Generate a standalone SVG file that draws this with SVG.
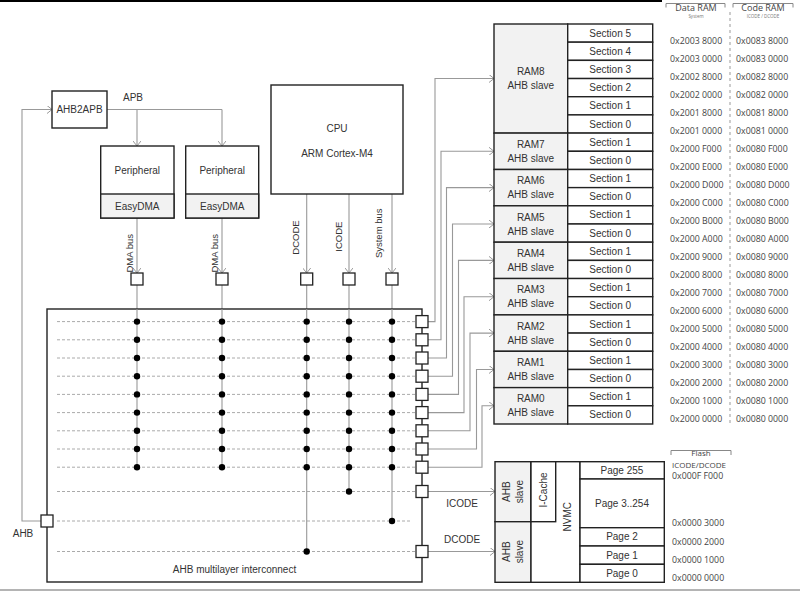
<svg xmlns="http://www.w3.org/2000/svg" width="800" height="592" viewBox="0 0 800 592">
<style>
.box{fill:#fff;stroke:#222;stroke-width:1.4}
.gbox{fill:#f2f2f2;stroke:#222;stroke-width:1.4}
.sq{fill:#fff;stroke:#222;stroke-width:1.3}
.t{font-family:"Liberation Sans",Arial,sans-serif;font-size:10px;fill:#333;text-anchor:middle}
.tr{font-family:"Liberation Sans",Arial,sans-serif;font-size:9.5px;fill:#333;text-anchor:middle}
.a{font-family:"Open Sans","Noto Sans",sans-serif;font-size:8.8px;fill:#444}
.h{font-family:"Open Sans","Noto Sans",sans-serif;font-size:9px;fill:#444;text-anchor:middle}
.hs{font-family:"Open Sans","Noto Sans",sans-serif;font-size:4.5px;fill:#777;text-anchor:middle}
.c{fill:none;stroke:#999;stroke-width:1.1}
.cm{fill:none;stroke:#999;stroke-width:1.1;marker-end:url(#ar)}
.d{fill:none;stroke:#aaa;stroke-width:1;stroke-dasharray:3,2}
.dot{fill:#000}
.br{fill:none;stroke:#888;stroke-width:1}
</style>
<defs>
<marker id="ar" markerUnits="userSpaceOnUse" viewBox="0 0 5 8" markerWidth="5" markerHeight="8" refX="5" refY="4" orient="auto">
<path d="M0,0 L5,4 L0,8" fill="none" stroke="#999" stroke-width="1"/>
</marker>
</defs>
<line x1="0" y1="1" x2="662" y2="1" stroke="#000" stroke-width="2"/>
<line x1="0" y1="590" x2="800" y2="590" stroke="#b4b4b4" stroke-width="2"/>

<g id="connectors">
<path class="cm" d="M45,521 H22 V109.5 H52"/>
<path class="c" d="M107,109.5 H222"/>
<path class="cm" d="M137,109.5 V146"/>
<path class="cm" d="M222,109.5 V146"/>
<path class="cm" d="M137,218 V273"/>
<path class="cm" d="M222,218 V273"/>
<path class="cm" d="M306.7,194 V273"/>
<path class="cm" d="M349,194 V273"/>
<path class="cm" d="M392,194 V273"/>
<path class="c" d="M137,285 V467.2 M222,285 V467.2 M306.7,285 V551.5 M349,285 V491.5 M392,285 V521"/>
<path class="cm" d="M428,321.6 H435 V78.5 H494"/>
<path class="cm" d="M428,339.8 H441 V151.3 H494"/>
<path class="cm" d="M428,358 H446.5 V187.6 H494"/>
<path class="cm" d="M428,376.2 H452.5 V224 H494"/>
<path class="cm" d="M428,394.4 H458.5 V260.4 H494"/>
<path class="cm" d="M428,412.6 H464 V296.7 H494"/>
<path class="cm" d="M428,430.8 H470 V333.1 H494"/>
<path class="cm" d="M428,449 H476.5 V369.5 H494"/>
<path class="cm" d="M428,467.2 H482 V405.8 H494"/>
<path class="cm" d="M428,491.5 H495"/>
<path class="cm" d="M428,551.5 H495"/>
<text class="t" x="133" y="101">APB</text>
<text class="t" x="23" y="537">AHB</text>
<text class="t" x="462" y="507">ICODE</text>
<text class="t" x="462" y="543">DCODE</text>
<text class="tr" transform="translate(133,253.3) rotate(-90)">DMA bus</text>
<text class="tr" transform="translate(218,253.3) rotate(-90)">DMA bus</text>
<text class="tr" transform="translate(298.5,237.5) rotate(-90)">DCODE</text>
<text class="tr" transform="translate(341.5,236.7) rotate(-90)">ICODE</text>
<text class="tr" transform="translate(382,233.3) rotate(-90)">System bus</text>
</g>

<g id="ahb2apb">
<rect class="box" x="52" y="91" width="55" height="37"/>
<text class="t" x="79.5" y="113">AHB2APB</text>
</g>
<g id="peripheral1">
<rect class="box" x="100.7" y="146" width="73.3" height="72"/>
<rect class="gbox" x="100.7" y="194" width="73.3" height="24"/>
<text class="t" x="137.3" y="173.5">Peripheral</text>
<text class="t" x="137.3" y="210">EasyDMA</text>
</g>
<g id="peripheral2">
<rect class="box" x="185.7" y="146" width="73" height="72"/>
<rect class="gbox" x="185.7" y="194" width="73" height="24"/>
<text class="t" x="222.2" y="173.5">Peripheral</text>
<text class="t" x="222.2" y="210">EasyDMA</text>
</g>
<g id="cpu">
<rect class="box" x="271" y="85" width="132" height="109"/>
<text class="t" x="337" y="131.5">CPU</text>
<text class="t" x="337" y="156.5">ARM Cortex-M4</text>
</g>

<g id="masterports">
<rect class="sq" x="131" y="273" width="12" height="12"/>
<rect class="sq" x="216" y="273" width="12" height="12"/>
<rect class="sq" x="300.7" y="273" width="12" height="12"/>
<rect class="sq" x="343" y="273" width="12" height="12"/>
<rect class="sq" x="386" y="273" width="12" height="12"/>
</g>

<g id="interconnect">
<rect x="47" y="309" width="375" height="273" fill="#fff" stroke="#222" stroke-width="1.4"/>
<path class="d" d="M57,321.6 H416 M57,339.8 H416 M57,358 H416 M57,376.2 H416 M57,394.4 H416 M57,412.6 H416 M57,430.8 H416 M57,449 H416 M57,467.2 H416 M57,491.5 H416 M57,521 H410 M57,551.5 H416"/>
<path class="c" d="M137,309 V467.2 M222,309 V467.2 M306.7,309 V551.5 M349,309 V491.5 M392,309 V521"/>
<g class="dot">
<circle cx="137" cy="321.6" r="3.2"/><circle cx="137" cy="339.8" r="3.2"/><circle cx="137" cy="358" r="3.2"/><circle cx="137" cy="376.2" r="3.2"/><circle cx="137" cy="394.4" r="3.2"/><circle cx="137" cy="412.6" r="3.2"/><circle cx="137" cy="430.8" r="3.2"/><circle cx="137" cy="449" r="3.2"/><circle cx="137" cy="467.2" r="3.2"/>
<circle cx="222" cy="321.6" r="3.2"/><circle cx="222" cy="339.8" r="3.2"/><circle cx="222" cy="358" r="3.2"/><circle cx="222" cy="376.2" r="3.2"/><circle cx="222" cy="394.4" r="3.2"/><circle cx="222" cy="412.6" r="3.2"/><circle cx="222" cy="430.8" r="3.2"/><circle cx="222" cy="449" r="3.2"/><circle cx="222" cy="467.2" r="3.2"/>
<circle cx="306.7" cy="321.6" r="3.2"/><circle cx="306.7" cy="339.8" r="3.2"/><circle cx="306.7" cy="358" r="3.2"/><circle cx="306.7" cy="376.2" r="3.2"/><circle cx="306.7" cy="394.4" r="3.2"/><circle cx="306.7" cy="412.6" r="3.2"/><circle cx="306.7" cy="430.8" r="3.2"/><circle cx="306.7" cy="449" r="3.2"/><circle cx="306.7" cy="467.2" r="3.2"/><circle cx="306.7" cy="551.5" r="3.2"/>
<circle cx="349" cy="321.6" r="3.2"/><circle cx="349" cy="339.8" r="3.2"/><circle cx="349" cy="358" r="3.2"/><circle cx="349" cy="376.2" r="3.2"/><circle cx="349" cy="394.4" r="3.2"/><circle cx="349" cy="412.6" r="3.2"/><circle cx="349" cy="430.8" r="3.2"/><circle cx="349" cy="449" r="3.2"/><circle cx="349" cy="467.2" r="3.2"/><circle cx="349" cy="491.5" r="3.2"/>
<circle cx="392" cy="321.6" r="3.2"/><circle cx="392" cy="339.8" r="3.2"/><circle cx="392" cy="358" r="3.2"/><circle cx="392" cy="376.2" r="3.2"/><circle cx="392" cy="394.4" r="3.2"/><circle cx="392" cy="412.6" r="3.2"/><circle cx="392" cy="430.8" r="3.2"/><circle cx="392" cy="449" r="3.2"/><circle cx="392" cy="467.2" r="3.2"/><circle cx="392" cy="521" r="3.2"/>
</g>
<g>
<rect class="sq" x="416" y="315.6" width="12" height="12"/>
<rect class="sq" x="416" y="333.8" width="12" height="12"/>
<rect class="sq" x="416" y="352" width="12" height="12"/>
<rect class="sq" x="416" y="370.2" width="12" height="12"/>
<rect class="sq" x="416" y="388.4" width="12" height="12"/>
<rect class="sq" x="416" y="406.6" width="12" height="12"/>
<rect class="sq" x="416" y="424.8" width="12" height="12"/>
<rect class="sq" x="416" y="443" width="12" height="12"/>
<rect class="sq" x="416" y="461.2" width="12" height="12"/>
<rect class="sq" x="416" y="485.5" width="12" height="12"/>
<rect class="sq" x="416" y="545.5" width="12" height="12"/>
<rect class="sq" x="41" y="515" width="12" height="12"/>
</g>
<text class="t" x="234.5" y="573">AHB multilayer interconnect</text>
</g>

<g id="ram8">
<rect class="gbox" x="494" y="24" width="73.7" height="109.1"/>
<rect class="box" x="567.7" y="24" width="85" height="18.18"/>
<rect class="box" x="567.7" y="42.18" width="85" height="18.18"/>
<rect class="box" x="567.7" y="60.36" width="85" height="18.18"/>
<rect class="box" x="567.7" y="78.54" width="85" height="18.18"/>
<rect class="box" x="567.7" y="96.72" width="85" height="18.18"/>
<rect class="box" x="567.7" y="114.9" width="85" height="18.18"/>
<text class="t" x="530.8" y="75">RAM8</text><text class="t" x="530.8" y="89">AHB slave</text>
<text class="t" x="610.2" y="36.6">Section 5</text>
<text class="t" x="610.2" y="54.8">Section 4</text>
<text class="t" x="610.2" y="73">Section 3</text>
<text class="t" x="610.2" y="91.1">Section 2</text>
<text class="t" x="610.2" y="109.3">Section 1</text>
<text class="t" x="610.2" y="127.5">Section 0</text>
</g>
<g id="ram7">
<rect class="gbox" x="494" y="133.1" width="73.7" height="36.36"/>
<rect class="box" x="567.7" y="133.1" width="85" height="18.18"/>
<rect class="box" x="567.7" y="151.3" width="85" height="18.18"/>
<text class="t" x="530.8" y="147.8">RAM7</text><text class="t" x="530.8" y="161.8">AHB slave</text>
<text class="t" x="610.2" y="145.7">Section 1</text><text class="t" x="610.2" y="163.9">Section 0</text>
</g>
<g id="ram6">
<rect class="gbox" x="494" y="169.5" width="73.7" height="36.36"/>
<rect class="box" x="567.7" y="169.5" width="85" height="18.18"/>
<rect class="box" x="567.7" y="187.6" width="85" height="18.18"/>
<text class="t" x="530.8" y="184.1">RAM6</text><text class="t" x="530.8" y="198.1">AHB slave</text>
<text class="t" x="610.2" y="182">Section 1</text><text class="t" x="610.2" y="200.2">Section 0</text>
</g>
<g id="ram5">
<rect class="gbox" x="494" y="205.8" width="73.7" height="36.36"/>
<rect class="box" x="567.7" y="205.8" width="85" height="18.18"/>
<rect class="box" x="567.7" y="224" width="85" height="18.18"/>
<text class="t" x="530.8" y="220.5">RAM5</text><text class="t" x="530.8" y="234.5">AHB slave</text>
<text class="t" x="610.2" y="218.4">Section 1</text><text class="t" x="610.2" y="236.6">Section 0</text>
</g>
<g id="ram4">
<rect class="gbox" x="494" y="242.2" width="73.7" height="36.36"/>
<rect class="box" x="567.7" y="242.2" width="85" height="18.18"/>
<rect class="box" x="567.7" y="260.4" width="85" height="18.18"/>
<text class="t" x="530.8" y="256.9">RAM4</text><text class="t" x="530.8" y="270.9">AHB slave</text>
<text class="t" x="610.2" y="254.8">Section 1</text><text class="t" x="610.2" y="273">Section 0</text>
</g>
<g id="ram3">
<rect class="gbox" x="494" y="278.5" width="73.7" height="36.36"/>
<rect class="box" x="567.7" y="278.5" width="85" height="18.18"/>
<rect class="box" x="567.7" y="296.7" width="85" height="18.18"/>
<text class="t" x="530.8" y="293.2">RAM3</text><text class="t" x="530.8" y="307.2">AHB slave</text>
<text class="t" x="610.2" y="291.1">Section 1</text><text class="t" x="610.2" y="309.3">Section 0</text>
</g>
<g id="ram2">
<rect class="gbox" x="494" y="314.9" width="73.7" height="36.36"/>
<rect class="box" x="567.7" y="314.9" width="85" height="18.18"/>
<rect class="box" x="567.7" y="333.1" width="85" height="18.18"/>
<text class="t" x="530.8" y="329.6">RAM2</text><text class="t" x="530.8" y="343.6">AHB slave</text>
<text class="t" x="610.2" y="327.5">Section 1</text><text class="t" x="610.2" y="345.7">Section 0</text>
</g>
<g id="ram1">
<rect class="gbox" x="494" y="351.3" width="73.7" height="36.36"/>
<rect class="box" x="567.7" y="351.3" width="85" height="18.18"/>
<rect class="box" x="567.7" y="369.5" width="85" height="18.18"/>
<text class="t" x="530.8" y="366">RAM1</text><text class="t" x="530.8" y="380">AHB slave</text>
<text class="t" x="610.2" y="363.9">Section 1</text><text class="t" x="610.2" y="382.1">Section 0</text>
</g>
<g id="ram0">
<rect class="gbox" x="494" y="387.6" width="73.7" height="36.4"/>
<rect class="box" x="567.7" y="387.6" width="85" height="18.18"/>
<rect class="box" x="567.7" y="405.8" width="85" height="18.2"/>
<text class="t" x="530.8" y="402.3">RAM0</text><text class="t" x="530.8" y="416.3">AHB slave</text>
<text class="t" x="610.2" y="400.2">Section 1</text><text class="t" x="610.2" y="418.4">Section 0</text>
</g>

<g id="ram-addresses">
<path class="br" d="M666,7.5 V3.5 H725 V7.5 M733,7.5 V3.5 H793 V7.5"/>
<line x1="730" y1="12" x2="730" y2="424" stroke="#999" stroke-width="1" stroke-dasharray="3,3"/>
<text class="h" x="696" y="10.5">Data RAM</text>
<text class="hs" x="696" y="17.5">System</text>
<text class="h" x="763" y="10.5">Code RAM</text>
<text class="hs" x="763" y="17.5">ICODE / DCODE</text>
<g class="a">
<text x="670" y="44">0x2003 8000</text><text x="736" y="44">0x0083 8000</text>
<text x="670" y="62">0x2003 0000</text><text x="736" y="62">0x0083 0000</text>
<text x="670" y="80">0x2002 8000</text><text x="736" y="80">0x0082 8000</text>
<text x="670" y="98">0x2002 0000</text><text x="736" y="98">0x0082 0000</text>
<text x="670" y="116">0x2001 8000</text><text x="736" y="116">0x0081 8000</text>
<text x="670" y="134">0x2001 0000</text><text x="736" y="134">0x0081 0000</text>
<text x="670" y="152">0x2000 F000</text><text x="736" y="152">0x0080 F000</text>
<text x="670" y="170">0x2000 E000</text><text x="736" y="170">0x0080 E000</text>
<text x="670" y="188">0x2000 D000</text><text x="736" y="188">0x0080 D000</text>
<text x="670" y="206">0x2000 C000</text><text x="736" y="206">0x0080 C000</text>
<text x="670" y="224">0x2000 B000</text><text x="736" y="224">0x0080 B000</text>
<text x="670" y="242">0x2000 A000</text><text x="736" y="242">0x0080 A000</text>
<text x="670" y="260">0x2000 9000</text><text x="736" y="260">0x0080 9000</text>
<text x="670" y="278">0x2000 8000</text><text x="736" y="278">0x0080 8000</text>
<text x="670" y="296">0x2000 7000</text><text x="736" y="296">0x0080 7000</text>
<text x="670" y="314">0x2000 6000</text><text x="736" y="314">0x0080 6000</text>
<text x="670" y="332">0x2000 5000</text><text x="736" y="332">0x0080 5000</text>
<text x="670" y="350">0x2000 4000</text><text x="736" y="350">0x0080 4000</text>
<text x="670" y="368">0x2000 3000</text><text x="736" y="368">0x0080 3000</text>
<text x="670" y="386">0x2000 2000</text><text x="736" y="386">0x0080 2000</text>
<text x="670" y="404">0x2000 1000</text><text x="736" y="404">0x0080 1000</text>
<text x="670" y="422">0x2000 0000</text><text x="736" y="422">0x0080 0000</text>
</g>
</g>

<g id="flash">
<rect class="gbox" x="495" y="461.7" width="36" height="60"/>
<rect class="gbox" x="495" y="521.7" width="36" height="60.6"/>
<rect class="box" x="531" y="461.7" width="49" height="120.6"/>
<rect class="box" x="531" y="461.7" width="24.7" height="60"/>
<rect class="box" x="580" y="461.7" width="84.3" height="17.3"/>
<rect class="box" x="580" y="479" width="84.3" height="48.7"/>
<rect class="box" x="580" y="527.7" width="84.3" height="18.3"/>
<rect class="box" x="580" y="546" width="84.3" height="18.3"/>
<rect class="box" x="580" y="564.3" width="84.3" height="18"/>
<g transform="translate(513,491.7) rotate(-90)"><text class="t" x="0" y="-2.8">AHB</text><text class="t" x="0" y="9.8">slave</text></g>
<g transform="translate(513,551.7) rotate(-90)"><text class="t" x="0" y="-2.8">AHB</text><text class="t" x="0" y="9.8">slave</text></g>
<text class="t" transform="translate(546.8,490) rotate(-90)">I-Cache</text>
<text class="t" transform="translate(571.2,516.7) rotate(-90)">NVMC</text>
<text class="t" x="622" y="473.8">Page 255</text>
<text class="t" x="622" y="506.8">Page 3..254</text>
<text class="t" x="622" y="540.3">Page 2</text>
<text class="t" x="622" y="558.6">Page 1</text>
<text class="t" x="622" y="576.8">Page 0</text>
</g>
<g id="flash-addresses">
<path class="br" d="M671,455 V450.5 H731 V455"/>
<text class="h" x="701" y="456" style="font-size:8px">Flash</text>
<g class="a">
<text x="672" y="468" style="font-size:8px">ICODE/DCODE</text>
<text x="672" y="479">0x000F F000</text>
<text x="672" y="525.5">0x0000 3000</text>
<text x="672" y="545">0x0000 2000</text>
<text x="672" y="562.5">0x0000 1000</text>
<text x="672" y="581">0x0000 0000</text>
</g>
</g>
</svg>
